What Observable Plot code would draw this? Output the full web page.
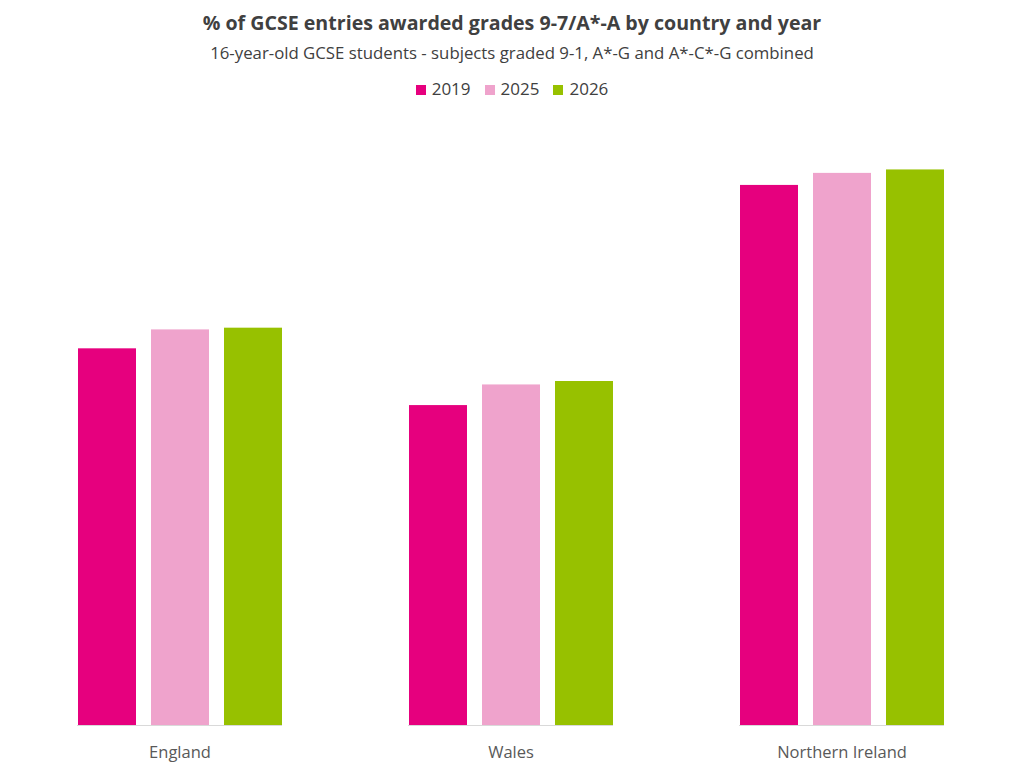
<!DOCTYPE html>
<html>
<head>
<meta charset="utf-8">
<script src="https://cdn.jsdelivr.net/npm/d3@7"></script>
<script src="https://cdn.jsdelivr.net/npm/@observablehq/plot@0.6"></script>
<style>
  html, body { margin: 0; padding: 0; background: #fff; }
  #wrap { width: 1024px; height: 772px; position: relative; font-family: "Open Sans", sans-serif; color: #404040; }
  #title { position: absolute; top: 10px; left: 0; width: 1024px; text-align: center; font-weight: bold; font-size: 19.6px; line-height: 26px; color: #404040; }
  #subtitle { position: absolute; top: 41px; left: 0; width: 1024px; text-align: center; font-size: 16.8px; line-height: 24px; color: #404040; }
  #legend { position: absolute; top: 77px; left: 0; width: 1024px; text-align: center; font-size: 17px; line-height: 24px; color: #404040; }
  #legend span.item { display: inline-block; margin: 0 7px; }
  #legend span.sw { display: inline-block; width: 10px; height: 10px; margin-right: 6px; vertical-align: 0px; }
  #chart { position: absolute; top: 120px; left: 0; }
</style>
</head>
<body>
<div id="wrap">
  <div id="title">% of GCSE entries awarded grades 9-7/A*-A by country and year</div>
  <div id="subtitle">16-year-old GCSE students - subjects graded 9-1, A*-G and A*-C*-G combined</div>
  <div id="legend"></div>
  <div id="chart"></div>
</div>
<script>
const countries = ["England", "Wales", "Northern Ireland"];
const years = ["2019", "2025", "2026"];
const values2019 = [21.9, 18.6, 31.4];
const values2025 = [23.0, 19.8, 32.1];
const values2026 = [23.1, 20.0, 32.3];
const colors = ["#e6007e", "#efa3cc", "#97c100"];

const seriesByYear = [values2019, values2025, values2026];
const data = [];
countries.forEach((c, i) => {
  years.forEach((y, j) => data.push({country: c, year: y, value: seriesByYear[j][i]}));
});

const legend = document.getElementById("legend");
years.forEach((y, j) => {
  const item = document.createElement("span");
  item.className = "item";
  item.innerHTML = `<span class="sw" style="background:${colors[j]}"></span>${y}`;
  legend.appendChild(item);
});

const chart = Plot.plot({
  width: 1024,
  height: 652,
  marginLeft: 14,
  marginRight: 16,
  marginTop: 3,
  marginBottom: 47,
  style: { fontFamily: "Open Sans, sans-serif", fontSize: "16.5px", color: "#595959", background: "#fff" },
  fx: { domain: countries, paddingInner: 0.38, paddingOuter: 0.19, label: null, axis: "bottom", tickSize: 0, tickPadding: 21 },
  x: { domain: years, paddingInner: 0.21, paddingOuter: 0, axis: null },
  y: { domain: [0, 35], axis: null },
  color: { domain: years, range: colors },
  marks: [
    Plot.barY(data, { fx: "country", x: "year", y: "value", fill: "year" }),
    Plot.ruleY([0], { stroke: "#d9d9d9", strokeWidth: 1.2, facet: "exclude" })
  ]
});
document.getElementById("chart").appendChild(chart);
</script>
</body>
</html>
